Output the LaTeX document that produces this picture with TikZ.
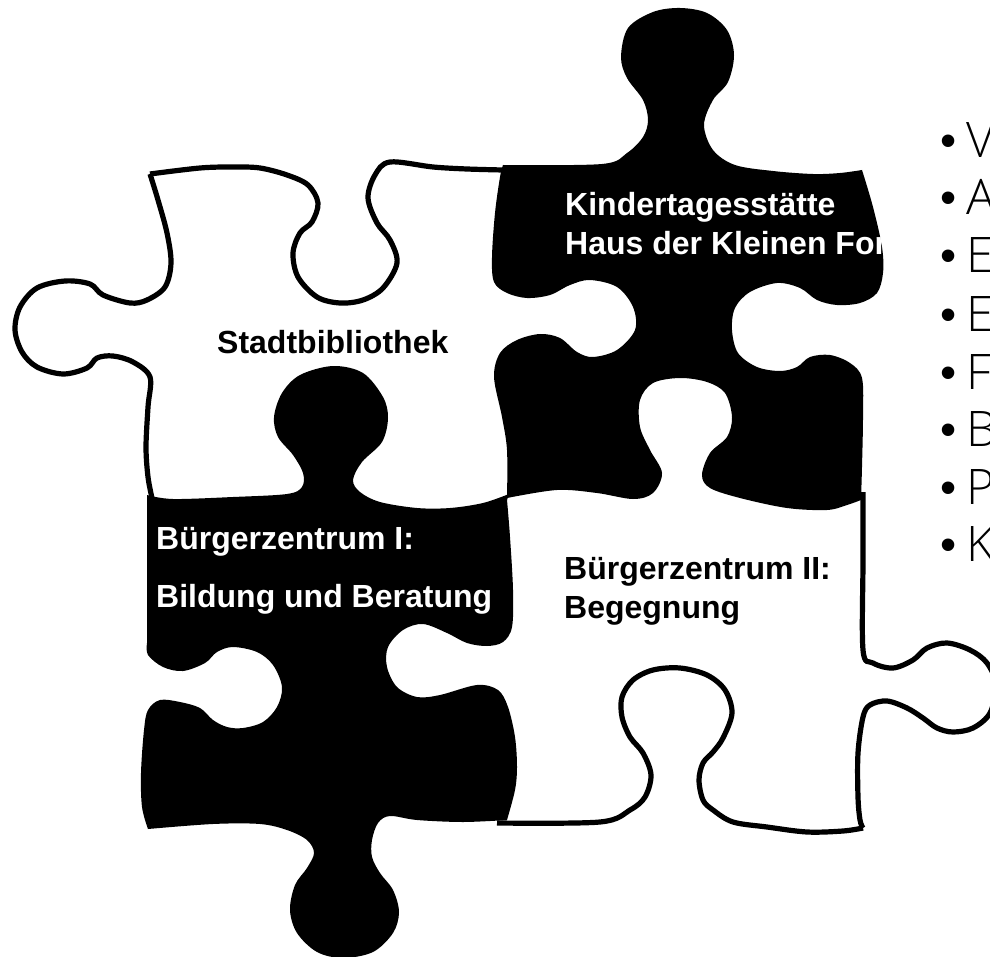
\documentclass[tikz,border=0pt]{standalone}
\usepackage{fontspec}
\setmainfont{Liberation Sans}
\newfontfamily\listfont{Open Sans Light}
\newcommand{\listbullet}{\makebox[26pt][l]{\raisebox{1pt}{\normalfont\fontsize{46}{46}\selectfont •}}}
\tikzset{
  labeltext/.style={anchor=base west,inner sep=0pt,font=\fontsize{32}{38}\selectfont\bfseries},
  whitetext/.style={labeltext,text=white},
  listitem/.style={anchor=base west,inner sep=0pt,font=\listfont\fontsize{49}{58}\selectfont},
  outline/.style={draw=black,line width=5.2pt,line join=miter},
  solid piece/.style={fill=black,draw=none},
  sm/.style={smooth,tension=0.55}
}
\begin{document}
\begin{tikzpicture}[x=1pt,y=-1pt]
\useasboundingbox (0,0) rectangle (990,957);
% Stadtbibliothek outline
\draw[outline] plot[sm] coordinates {(150,174)(200,168)(233,167)(260,168)(287,175)(308,185)(318,203)(312,222)(300,233)(293,253)(298,277)(317,297)(340,303)(363,300)(383,288)(397,263)(390,240)(377,223)(368,198)(375,175)(390,162)(433,167)(467,169)(503,170)};
\draw[outline] plot[sm] coordinates {(150,174)(158,200)(167,233)(171,263)(165,287)(147,300)(130,303)(103,295)(90,284)(65,281)(37,288)(20,307)(15,330)(22,352)(37,367)(63,374)(87,368)(97,358)(113,356)(133,362)(150,377)(148,407)(146,447)(148,477)(152,498)};
% Bürgerzentrum II outline
\draw[outline] plot[sm] coordinates {(863,492)(863,560)(863,650)(873,663)(893,668)(913,660)(927,648)(947,643)(970,650)(987,663)(996,685)(990,713)(973,728)(953,732)(937,728)(923,718)(907,708)(887,701)(870,705)(863,717)(858,753)(858,797)(860,820)(863,828)};
\draw[outline] plot[sm] coordinates {(863,828)(843,831)(807,832)(767,827)(733,822)(713,810)(703,800)(699,780)(703,763)(713,752)(723,738)(732,713)(725,690)(707,675)(680,668)(653,670)(633,680)(622,697)(622,717)(630,737)(643,753)(651,775)(645,797)(630,810)(600,822)(497,823)};
% Kindertagesstätte piece
\fill[solid piece] plot[sm] coordinates {(503,165)(602,164)(627,153)(643,137)(648,120)(643,100)(627,78)(621,57)(628,28)(653,12)(680,8)(707,13)(727,30)(734,55)(728,82)(713,100)(704,125)(713,150)(735,165)(773,171)(813,174)(840,173)(862,170)}
 -- plot[sm] coordinates {(862,170)(873,207)(882,247)(883,273)(877,293)(860,303)(837,305)(817,300)(800,288)(777,283)(750,292)(735,308)(732,330)(738,353)(757,367)(780,371)(797,367)(810,357)(830,355)(850,363)(862,378)(863,417)(862,467)(861,500)}
 -- plot[sm] coordinates {(861,500)(847,505)(827,510)(787,508)(740,498)(710,488)(702,475)(710,453)(727,437)(732,417)(725,393)(707,382)(680,378)(653,383)(640,400)(640,427)(650,450)(662,473)(653,493)(633,499)(597,493)(557,490)(507,498)}
 -- plot[sm] coordinates {(507,498)(507,450)(502,417)(494,377)(500,353)(517,340)(540,334)(560,338)(577,352)(593,357)(617,350)(635,330)(633,307)(617,287)(590,280)(570,285)(550,295)(527,298)(507,293)(494,282)(492,257)(495,213)(500,177)(503,165)} -- cycle;
% Bürgerzentrum I piece
\fill[solid piece] plot[sm] coordinates {(147,495)(173,499)(233,497)(287,494)(302,487)(303,473)(293,455)(278,437)(274,417)(282,393)(300,375)(333,366)(363,373)(383,397)(388,418)(382,442)(362,462)(353,480)(360,492)(380,502)(417,508)(450,508)(483,503)(509,494)}
 -- (507,500) -- plot[sm] coordinates {(507,500)(510,537)(513,590)(512,627)(503,642)(487,646)(467,643)(447,633)(423,624)(403,630)(388,647)(387,667)(397,687)(417,697)(440,695)(477,685)(498,690)(508,707)(515,737)(517,767)(515,790)(507,820)}
 -- plot[sm] coordinates {(507,820)(463,822)(417,820)(390,816)(378,823)(372,840)(372,857)(380,873)(393,890)(399,912)(393,933)(373,952)(343,958)(317,952)(297,933)(290,910)(295,885)(307,868)(314,853)(307,840)(287,830)(260,824)(213,824)(148,829)}
 -- plot[sm] coordinates {(148,829)(142,807)(141,773)(144,730)(148,710)(160,700)(180,702)(200,708)(213,720)(227,727)(243,728)(263,722)(277,707)(282,687)(273,665)(257,652)(233,647)(217,652)(205,663)(183,671)(163,667)(148,655)(147,643)} -- cycle;
% labels
\node[labeltext] (stadt) at (217,353) {Stadtbibliothek};
\node[whitetext] (kita1) at (565,216) {Kindertagesstätte};
\node[whitetext] (kita2) at (565,255) {Haus der Kleinen For};
\node[whitetext] (bz1a) at (156,549) {Bürgerzentrum I:};
\node[whitetext] (bz1b) at (156,607) {Bildung und Beratung};
\node[labeltext] (bz2a) at (564,579) {Bürgerzentrum II:};
\node[labeltext] (bz2b) at (564,618) {Begegnung};
% list
\node[listitem] (l1) at (940,158) {\listbullet V};
\node[listitem] (l2) at (940,215) {\listbullet A};
\node[listitem] (l3) at (940,273) {\listbullet E};
\node[listitem] (l4) at (940,331) {\listbullet E};
\node[listitem] (l5) at (940,389) {\listbullet F};
\node[listitem] (l6) at (940,446) {\listbullet B};
\node[listitem] (l7) at (940,504) {\listbullet P};
\node[listitem] (l8) at (940,561) {\listbullet K};
\end{tikzpicture}
\end{document}
